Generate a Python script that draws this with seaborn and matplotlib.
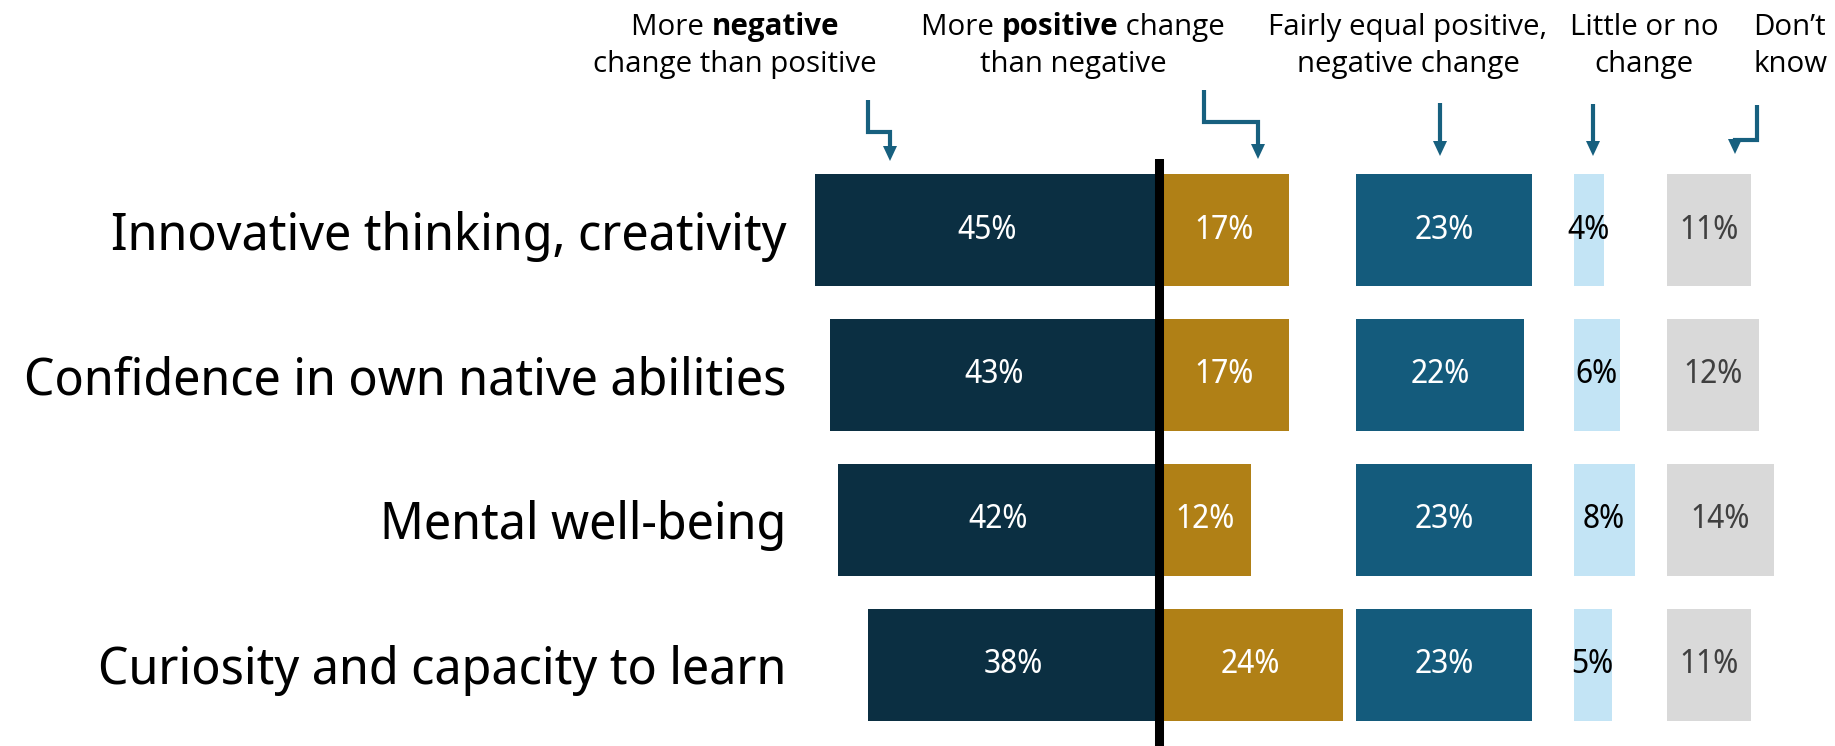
import matplotlib
matplotlib.use("Agg")
import matplotlib.pyplot as plt
from matplotlib.patches import Polygon
from matplotlib import font_manager as fm
import seaborn as sns
import pandas as pd

# ---------------- data ----------------
categories = ["Innovative thinking, creativity",
              "Confidence in own native abilities",
              "Mental well-being",
              "Curiosity and capacity to learn"]
more_negative = [45, 43, 42, 38]
more_positive = [17, 17, 12, 24]
fairly_equal = [23, 22, 23, 23]
little_change = [4, 6, 8, 5]
dont_know = [11, 12, 14, 11]

header_lines = [
    [[("More ", "normal"), ("negative", "bold")], [("change than positive", "normal")]],
    [[("More ", "normal"), ("positive", "bold"), (" change", "normal")], [("than negative", "normal")]],
    [[("Fairly equal positive,", "normal")], [("negative change", "normal")]],
    [[("Little or no", "normal")], [("change", "normal")]],
    [[("Don\u2019t", "normal")], [("know", "normal")]],
]

# ---------------- style ----------------
C_NEG = "#0b2f42"
C_POS = "#b08016"
C_FAIR = "#145b7c"
C_LITTLE = "#c3e4f5"
C_DK = "#d9d9d9"
C_ARROW = "#17607f"
FONT = "Noto Sans Display"

_WMAP = {"ultralight": 200, "light": 300, "normal": 400, "regular": 400, "book": 400, "medium": 500,
         "roman": 400, "semibold": 600, "demibold": 600, "demi": 600, "bold": 700, "heavy": 800,
         "extra bold": 800, "black": 900}


def _w(w):
    return w if isinstance(w, (int, float)) else _WMAP.get(str(w).lower(), 400)


def has_bold(fam):
    return any(f.name == fam and _w(f.weight) >= 650 for f in fm.fontManager.ttflist)


HEAD_FAM = next((f for f in ["Noto Sans", "Open Sans", "Hind", "Lato", "Liberation Sans"] if has_bold(f)),
                "DejaVu Sans")
HEAD_FONT = [HEAD_FAM, "DejaVu Sans"]

sns.set_theme(style="white")
plt.rcParams["font.family"] = [FONT, "DejaVu Sans"]

W, H = 1835, 746
fig = plt.figure(figsize=(W / 100, H / 100), dpi=100)

PX_PER_UNIT = 7.65
ZERO_PX = 1159
AX_LEFT_PX = 800
AX_TOP_PX = 159
ax = fig.add_axes([AX_LEFT_PX / W, 0, 1 - AX_LEFT_PX / W, 1 - AX_TOP_PX / H])

df = pd.DataFrame({"cat": categories,
                   "neg": [-v for v in more_negative],
                   "pos": more_positive,
                   "fair": fairly_equal,
                   "little": little_change,
                   "dk": dont_know})

offsets = {"neg": 0, "pos": 0, "fair": 25.75, "little": 54.2, "dk": 66.4}
colors = {"neg": C_NEG, "pos": C_POS, "fair": C_FAIR, "little": C_LITTLE, "dk": C_DK}
label_colors = {"neg": "white", "pos": "white", "fair": "white", "little": "black", "dk": "#404040"}

for key in ["neg", "pos", "fair", "little", "dk"]:
    sns.barplot(data=df, x=key, y="cat", orient="y", color=colors[key], width=0.77,
                saturation=1, left=offsets[key], ax=ax, linewidth=0, zorder=2)

for i in range(len(categories)):
    for key in ["neg", "pos", "fair", "little", "dk"]:
        v = df[key].iloc[i]
        xc = offsets[key] + v / 2
        ax.text(xc, i, f"{abs(v)}%", ha="center", va="center", fontsize=23,
                color=label_colors[key], zorder=4)

ax.axvline(0, color="black", lw=6.5, zorder=3)
ax.set_xlim(-(ZERO_PX - AX_LEFT_PX) / PX_PER_UNIT, (W - ZERO_PX) / PX_PER_UNIT)
ax.set_ylim(3.56, -0.49)
ax.set_xlabel("")
ax.set_ylabel("")
ax.set_xticks([])
ax.tick_params(axis="y", length=0, pad=10, labelsize=37, labelcolor="black")
for s in ax.spines.values():
    s.set_visible(False)

# ---------------- header overlay ----------------
ov = fig.add_axes([0, 0, 1, 1], zorder=5)
ov.set_xlim(0, W)
ov.set_ylim(H, 0)
ov.axis("off")
ov.patch.set_alpha(0)

fig.canvas.draw()
renderer = fig.canvas.get_renderer()

# size the header font so that "change than positive" spans ~284 px as in the reference
_probe = ov.text(0, 0, "change than positive", fontsize=20, family=HEAD_FONT)
HEAD_SIZE = 20 * 284 / _probe.get_window_extent(renderer).width
_probe.remove()


def place_line(pieces, x, y, align):
    texts = []
    for txt, wt in pieces:
        t = ov.text(0, y, txt, fontsize=HEAD_SIZE, fontweight=wt, family=HEAD_FONT,
                    ha="left", va="baseline", color="black")
        texts.append(t)
    widths = [t.get_window_extent(renderer).width for t in texts]
    total = sum(widths)
    start = x - total / 2 if align == "center" else x
    for t, w in zip(texts, widths):
        t.set_x(start)
        start += w


header_x = [(735, "center"), (1073, "center"), (1408, "center"), (1644, "center"), (1753, "left")]
for (x, al), lines in zip(header_x, header_lines):
    place_line(lines[0], x, 35, al)
    place_line(lines[1], x, 72, al)

arrows = [
    [(868, 100), (868, 132), (890, 132), (890, 161)],
    [(1204, 90), (1204, 122), (1258, 122), (1258, 159)],
    [(1440, 103), (1440, 156)],
    [(1593, 104), (1593, 156)],
    [(1757, 105), (1757, 140), (1735, 140), (1735, 154)],
]
HEAD_W, HEAD_H = 14, 15
for pts in arrows:
    xs = [p[0] for p in pts]
    ys = [p[1] for p in pts]
    tipx, tipy = xs[-1], ys[-1]
    ys_line = ys[:-1] + [tipy - HEAD_H + 2]
    ov.plot(xs, ys_line, color=C_ARROW, lw=3, solid_joinstyle="miter", solid_capstyle="butt")
    ov.add_patch(Polygon([(tipx - HEAD_W / 2, tipy - HEAD_H), (tipx + HEAD_W / 2, tipy - HEAD_H), (tipx, tipy)],
                         closed=True, color=C_ARROW, lw=0))

fig.savefig("out.png", dpi=100)
